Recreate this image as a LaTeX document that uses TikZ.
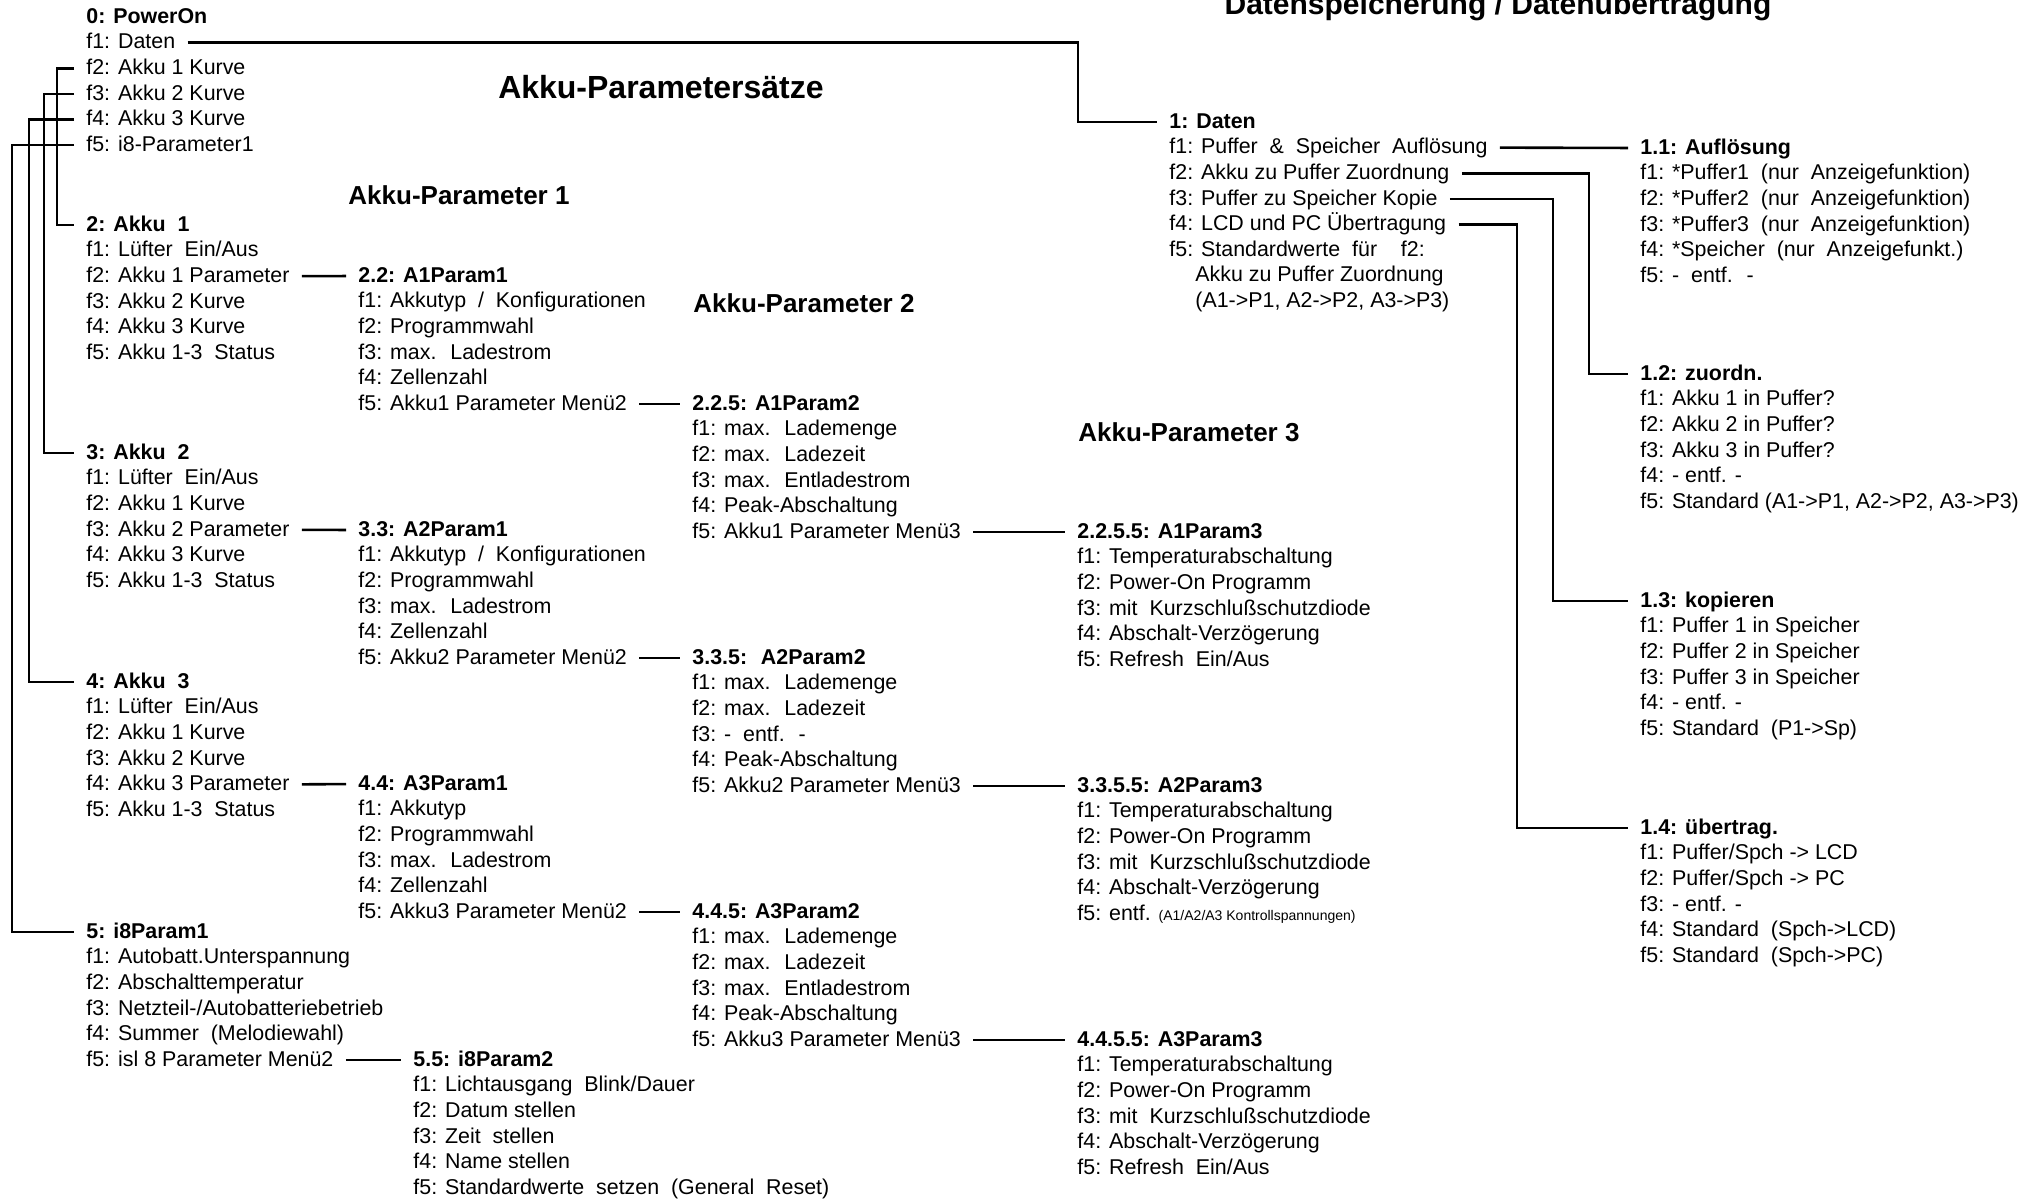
\documentclass[tikz,border=0pt]{standalone}
\usepackage{fontspec}
\setmainfont{Liberation Sans}

\begin{document}
\begin{tikzpicture}[x=0.5pt,y=-0.5pt,
  every node/.style={inner sep=0pt,anchor=west,text height=1.6ex,text depth=.4ex},
  head/.style={font=\fontsize{10.7}{12}\selectfont\bfseries},
  item/.style={font=\fontsize{10.7}{12}\selectfont},
  title/.style={font=\fontsize{13}{15}\selectfont\bfseries,anchor=center},
  link/.style={line width=1.3pt,shorten <=6pt,shorten >=6pt}]
\clip (0,0) rectangle (2044,1199);

% titles
\node[title,font=\fontsize{16}{18}\selectfont\bfseries] (tsets) at (661,92) {Akku-Parametersätze};
\node[title] (tp1) at (459,198) {Akku-Parameter 1};
\node[title] (tp2) at (804,306) {Akku-Parameter 2};
\node[title] (tp3) at (1189,435) {Akku-Parameter 3};
\node[title,anchor=base,font=\fontsize{15}{17}\selectfont\bfseries] (tdata) at (1498,14) {Datenspeicherung / Datenübertragung};

% main menu
\node[head] (m0) at (86,17) {0: PowerOn};
\foreach \txt [count=\i] in {f1: Daten, f2: Akku 1 Kurve, f3: Akku 2 Kurve, f4: Akku 3 Kurve, f5: i8-Parameter1}
  \node[item] (m0f\i) at (86,{17+25.6*\i}) {\txt};

% akku menus
\node[head] (m2) at (86,225) {2: Akku~ 1};
\foreach \txt [count=\i] in {f1: Lüfter~ Ein/Aus, f2: Akku 1 Parameter, f3: Akku 2 Kurve, f4: Akku 3 Kurve, f5: Akku 1-3~ Status}
  \node[item] (m2f\i) at (86,{225+25.6*\i}) {\txt};
\node[head] (m3) at (86,453) {3: Akku~ 2};
\foreach \txt [count=\i] in {f1: Lüfter~ Ein/Aus, f2: Akku 1 Kurve, f3: Akku 2 Parameter, f4: Akku 3 Kurve, f5: Akku 1-3~ Status}
  \node[item] (m3f\i) at (86,{453+25.6*\i}) {\txt};
\node[head] (m4) at (86,682) {4: Akku~ 3};
\foreach \txt [count=\i] in {f1: Lüfter~ Ein/Aus, f2: Akku 1 Kurve, f3: Akku 2 Kurve, f4: Akku 3 Parameter, f5: Akku 1-3~ Status}
  \node[item] (m4f\i) at (86,{682+25.6*\i}) {\txt};
\node[head] (m5) at (86,932) {5: i8Param1};
\foreach \txt [count=\i] in {f1: Autobatt.Unterspannung, f2: Abschalttemperatur, f3: Netzteil-/Autobatteriebetrieb, f4: Summer~ (Melodiewahl), f5: isl 8 Parameter Menü2}
  \node[item] (m5f\i) at (86,{932+25.6*\i}) {\txt};

% parameter 1
\node[head] (m22) at (358,276) {2.2: A1Param1};
\foreach \txt [count=\i] in {f1: Akkutyp~ /~ Konfigurationen, f2: Programmwahl, f3: max.~ Ladestrom, f4: Zellenzahl, f5: Akku1 Parameter Menü2}
  \node[item] (m22f\i) at (358,{276+25.6*\i}) {\txt};
\node[head] (m33) at (358,530) {3.3: A2Param1};
\foreach \txt [count=\i] in {f1: Akkutyp~ /~ Konfigurationen, f2: Programmwahl, f3: max.~ Ladestrom, f4: Zellenzahl, f5: Akku2 Parameter Menü2}
  \node[item] (m33f\i) at (358,{530+25.6*\i}) {\txt};
\node[head] (m44) at (358,784) {4.4: A3Param1};
\foreach \txt [count=\i] in {f1: Akkutyp, f2: Programmwahl, f3: max.~ Ladestrom, f4: Zellenzahl, f5: Akku3 Parameter Menü2}
  \node[item] (m44f\i) at (358,{784+25.6*\i}) {\txt};
\node[head] (m55) at (413,1060) {5.5: i8Param2};
\foreach \txt [count=\i] in {f1: Lichtausgang~ Blink/Dauer, f2: Datum stellen, f3: Zeit~ stellen, f4: Name stellen, f5: Standardwerte~ setzen~ (General~ Reset)}
  \node[item] (m55f\i) at (413,{1060+25.6*\i}) {\txt};

% parameter 2
\node[head] (m225) at (692,404) {2.2.5: A1Param2};
\foreach \txt [count=\i] in {f1: max.~ Lademenge, f2: max.~ Ladezeit, f3: max.~ Entladestrom, f4: Peak-Abschaltung, f5: Akku1 Parameter Menü3}
  \node[item] (m225f\i) at (692,{404+25.6*\i}) {\txt};
\node[head] (m335) at (692,658) {3.3.5:~ A2Param2};
\foreach \txt [count=\i] in {f1: max.~ Lademenge, f2: max.~ Ladezeit, f3: -~ entf.~ -, f4: Peak-Abschaltung, f5: Akku2 Parameter Menü3}
  \node[item] (m335f\i) at (692,{658+25.6*\i}) {\txt};
\node[head] (m445) at (692,912) {4.4.5: A3Param2};
\foreach \txt [count=\i] in {f1: max.~ Lademenge, f2: max.~ Ladezeit, f3: max.~ Entladestrom, f4: Peak-Abschaltung, f5: Akku3 Parameter Menü3}
  \node[item] (m445f\i) at (692,{912+25.6*\i}) {\txt};

% parameter 3
\node[head] (m2255) at (1077,532) {2.2.5.5: A1Param3};
\foreach \txt [count=\i] in {f1: Temperaturabschaltung, f2: Power-On Programm, f3: mit~ Kurzschlußschutzdiode, f4: Abschalt-Verzögerung, f5: Refresh~ Ein/Aus}
  \node[item] (m2255f\i) at (1077,{532+25.6*\i}) {\txt};
\node[head] (m3355) at (1077,786) {3.3.5.5: A2Param3};
\foreach \txt [count=\i] in {f1: Temperaturabschaltung, f2: Power-On Programm, f3: mit~ Kurzschlußschutzdiode, f4: Abschalt-Verzögerung, f5: entf. {\fontsize{7}{8}\selectfont (A1/A2/A3 Kontrollspannungen)}}
  \node[item] (m3355f\i) at (1077,{786+25.6*\i}) {\txt};
\node[head] (m4455) at (1077,1040) {4.4.5.5: A3Param3};
\foreach \txt [count=\i] in {f1: Temperaturabschaltung, f2: Power-On Programm, f3: mit~ Kurzschlußschutzdiode, f4: Abschalt-Verzögerung, f5: Refresh~ Ein/Aus}
  \node[item] (m4455f\i) at (1077,{1040+25.6*\i}) {\txt};

% daten
\node[head] (m1) at (1169,122) {1: Daten};
\foreach \txt [count=\i] in {f1: Puffer~ \&~ Speicher~ Auflösung, f2: Akku zu Puffer Zuordnung, f3: Puffer zu Speicher Kopie, f4: LCD und PC Übertragung, f5: Standardwerte~ für~~~ f2:}
  \node[item] (m1f\i) at (1169,{122+25.6*\i}) {\txt};
\node[item] (m1c1) at (1195,{122+25.6*6}) {Akku zu Puffer Zuordnung};
\node[item] (m1c2) at (1195,{122+25.6*7}) {(A1->P1, A2->P2, A3->P3)};
\node[head] (m11) at (1640,148) {1.1: Auflösung};
\foreach \txt [count=\i] in {f1: *Puffer1~ (nur~ Anzeigefunktion), f2: *Puffer2~ (nur~ Anzeigefunktion), f3: *Puffer3~ (nur~ Anzeigefunktion), f4: *Speicher~ (nur~ Anzeigefunkt.), f5: -~ entf.~ -}
  \node[item] (m11f\i) at (1640,{148+25.6*\i}) {\txt};
\node[head] (m12) at (1640,374) {1.2: zuordn.};
\foreach \txt [count=\i] in {f1: Akku 1 in Puffer?, f2: Akku 2 in Puffer?, f3: Akku 3 in Puffer?, f4: - entf. -, {f5: Standard (A1->P1, A2->P2, A3->P3)}}
  \node[item] (m12f\i) at (1640,{374+25.6*\i}) {\txt};
\node[head] (m13) at (1640,601) {1.3: kopieren};
\foreach \txt [count=\i] in {f1: Puffer 1 in Speicher, f2: Puffer 2 in Speicher, f3: Puffer 3 in Speicher, f4: - entf. -, f5: Standard~ (P1->Sp)}
  \node[item] (m13f\i) at (1640,{601+25.6*\i}) {\txt};
\node[head] (m14) at (1640,828) {1.4: übertrag.};
\foreach \txt [count=\i] in {f1: Puffer/Spch -> LCD, f2: Puffer/Spch -> PC, f3: - entf. -, f4: Standard~ (Spch->LCD), f5: Standard~ (Spch->PC)}
  \node[item] (m14f\i) at (1640,{828+25.6*\i}) {\txt};

% links
\coordinate (bus2) at (57,0);
\coordinate (bus3) at (44,0);
\coordinate (bus4) at (29,0);
\coordinate (bus5) at (12,0);
\coordinate (dbus) at (1078,0);
\coordinate (rbus2) at (1589,0);
\coordinate (rbus3) at (1553,0);
\coordinate (rbus4) at (1517,0);

\draw[link] (m0f1.east) -- (m0f1.east -| dbus) |- (m1.west);
\draw[link] (m0f2.west) -- (m0f2.west -| bus2) |- (m2.west);
\draw[link] (m0f3.west) -- (m0f3.west -| bus3) |- (m3.west);
\draw[link] (m0f4.west) -- (m0f4.west -| bus4) |- (m4.west);
\draw[link] (m0f5.west) -- (m0f5.west -| bus5) |- (m5.west);

\draw[link] (m2f2.east) -- (m22.west);
\draw[link] (m3f3.east) -- (m33.west);
\draw[link] (m4f4.east) -- (m44.west);
\draw[link] (m5f5.east) -- (m55.west);
\draw[link] (m22f5.east) -- (m225.west);
\draw[link] (m33f5.east) -- (m335.west);
\draw[link] (m44f5.east) -- (m445.west);
\draw[link] (m225f5.east) -- (m2255.west);
\draw[link] (m335f5.east) -- (m3355.west);
\draw[link] (m445f5.east) -- (m4455.west);

\draw[link] (m1f1.east) -- (m11.west);
\draw[link] (m1f2.east) -- (m1f2.east -| rbus2) |- (m12.west);
\draw[link] (m1f3.east) -- (m1f3.east -| rbus3) |- (m13.west);
\draw[link] (m1f4.east) -- (m1f4.east -| rbus4) |- (m14.west);
\end{tikzpicture}
\end{document}
